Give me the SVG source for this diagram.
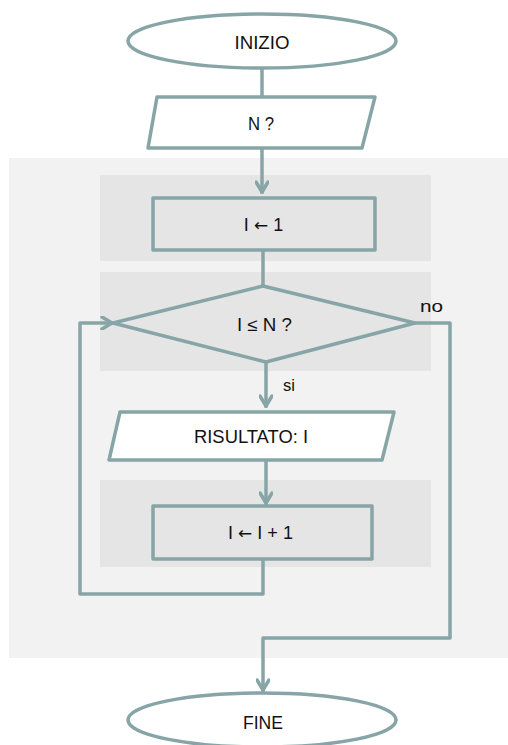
<svg xmlns="http://www.w3.org/2000/svg" width="508" height="745" viewBox="0 0 508 745">
<defs>
<style>
.panel{fill:#F2F2F2}
.band{fill:#E5E5E5}
.sh{fill:#FFFFFF;stroke:#87A5A7;stroke-width:3.5;stroke-linejoin:round}
.shg{fill:#E5E5E5;stroke:#87A5A7;stroke-width:3.5;stroke-linejoin:round}
.ln{fill:none;stroke:#87A5A7;stroke-width:3.5;stroke-linejoin:round;stroke-linecap:square}
.t{font-family:"Liberation Sans","DejaVu Sans",Arial,sans-serif;font-size:18px;fill:#111;text-anchor:middle}
.tl{font-family:"Liberation Sans","DejaVu Sans",Arial,sans-serif;font-size:17px;fill:#111}
.ar{font-family:"DejaVu Sans",sans-serif;font-size:17px}
</style>
<marker id="ah" viewBox="0 0 14 14" refX="12" refY="7" markerWidth="14" markerHeight="14" markerUnits="userSpaceOnUse" orient="auto">
<path d="M2,1 L12,7 L2,13" fill="none" stroke="#87A5A7" stroke-width="3.5" stroke-linecap="round" stroke-linejoin="round"/>
</marker>
</defs>
<rect width="508" height="745" fill="#FFFFFF"/>
<rect class="panel" x="9" y="158" width="499" height="500"/>
<rect class="band" x="100" y="175" width="331" height="86"/>
<rect class="band" x="100" y="272" width="331" height="99"/>
<rect class="band" x="100" y="480" width="331" height="87"/>

<g id="connectors">
<path class="ln" d="M262,68 L262,97"/>
<path class="ln" d="M262,148 L262,192" marker-end="url(#ah)"/>
<path class="ln" d="M263,250 L263,286"/>
<path class="ln" d="M266,362 L266,406" marker-end="url(#ah)"/>
<path class="ln" d="M266,460 L266,503" marker-end="url(#ah)"/>
<path class="ln" d="M263,559 L263,594 L80,594 L80,323 L112,323" marker-end="url(#ah)"/>
<path class="ln" d="M415,323 L450,323 L450,638 L263,638 L263,690" marker-end="url(#ah)"/>
<text class="tl" x="420" y="312" textLength="23" lengthAdjust="spacingAndGlyphs">no</text>
<text class="tl" x="283" y="391" textLength="12" lengthAdjust="spacingAndGlyphs">si</text>
</g>

<g id="inizio">
<ellipse class="sh" cx="262" cy="41" rx="134" ry="27"/>
<text class="t" x="262" y="49" textLength="55" lengthAdjust="spacingAndGlyphs">INIZIO</text>
</g>
<g id="input-n">
<polygon class="sh" points="157,97 375,97 362,148 148,148"/>
<text class="t" x="261" y="130" textLength="26" lengthAdjust="spacingAndGlyphs">N ?</text>
</g>
<g id="init-i">
<rect class="shg" x="153" y="198" width="222" height="52"/>
<text class="t" x="263.5" y="231">I <tspan class="ar">←</tspan> 1</text>
</g>
<g id="decision">
<polygon class="shg" points="263,286 415,323 266,362 113,323"/>
<text class="t" x="264.5" y="331" textLength="55" lengthAdjust="spacingAndGlyphs">I ≤ N ?</text>
</g>
<g id="output">
<polygon class="sh" points="120,412 394,412 382,460 109,460"/>
<text class="t" x="251" y="443" textLength="114" lengthAdjust="spacingAndGlyphs">RISULTATO: I</text>
</g>
<g id="increment">
<rect class="shg" x="153" y="506" width="219" height="53"/>
<text class="t" x="260.5" y="539">I <tspan class="ar">←</tspan> I + 1</text>
</g>
<g id="fine">
<ellipse class="sh" cx="262" cy="720" rx="134" ry="27"/>
<text class="t" x="263" y="729" textLength="40" lengthAdjust="spacingAndGlyphs">FINE</text>
</g>
</svg>
